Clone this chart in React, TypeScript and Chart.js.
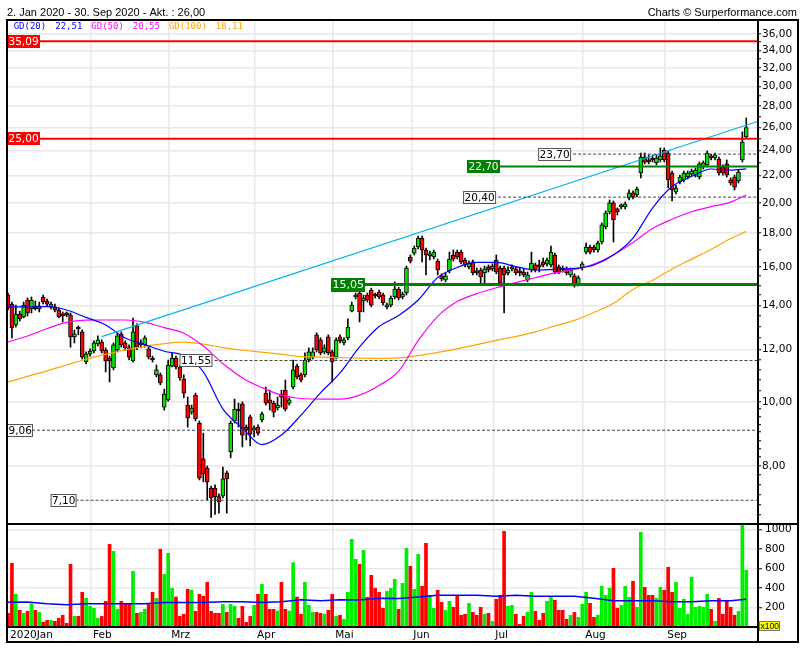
import { useEffect, useRef } from 'react';
import { Chart, registerables } from 'chart.js';
Chart.register(...registerables);

// ---------------- DATA ----------------
const titleText = '2. Jan 2020 - 30. Sep 2020 - Akt. : 26,00';
const creditText = 'Charts \u00A9 Surperformance.com';

const opens = [
  14.51, 14.06, 13.07, 13.58, 13.44, 14.26, 13.82, 13.96, 13.82, 14.41,
  14.21, 13.92, 13.92, 13.77, 13.58, 13.63, 13.54, 12.54, 12.94, 12.76,
  11.49, 11.82, 11.94, 12.24, 12.32, 11.98, 11.65, 11.26, 11.98, 12.67,
  12.28, 12.07, 11.53, 13.03, 12.20, 12.20, 12.03, 11.65, 10.99, 10.99,
  9.82, 10.07, 11.33, 11.65, 11.30, 10.83, 9.89, 9.65, 10.24, 9.29,
  8.20, 7.94, 7.41, 7.41, 7.19, 7.21, 7.81, 8.40, 9.36, 9.75,
  9.93, 9.16, 9.49, 9.07, 9.16, 9.39, 10.31, 10.07, 9.96, 9.79,
  10.28, 10.42, 9.96, 10.53, 11.33, 10.99, 10.99, 11.57, 11.69, 12.63,
  12.41, 11.90, 12.54, 11.90, 11.69, 12.54, 12.28, 12.50, 13.72, 14.41,
  14.61, 14.21, 14.51, 14.76, 14.51, 14.66, 14.51, 13.92, 14.01, 14.41,
  14.81, 14.41, 14.61, 16.56, 16.79, 17.15, 17.69, 16.97, 16.62, 16.56,
  16.33, 15.51, 15.29, 15.78, 16.68, 16.85, 16.85, 16.39, 16.00, 16.28,
  15.72, 15.83, 15.67, 16.00, 15.89, 16.39, 15.94, 15.94, 15.67, 15.89,
  15.89, 15.78, 15.72, 15.29, 15.83, 16.11, 16.05, 16.28, 16.17, 16.11,
  16.68, 16.00, 15.94, 15.89, 15.56, 15.51, 15.08, 15.94, 16.85, 17.15,
  17.15, 16.97, 17.45, 18.39, 19.38, 20.00, 19.58, 19.72, 19.72, 20.34,
  20.70, 20.56, 22.19, 23.46, 23.22, 23.38, 22.98, 23.22, 24.04, 23.79,
  22.19, 20.78, 21.51, 21.66, 21.88, 22.11, 22.03, 21.88, 22.66, 22.82,
  23.55, 23.38, 23.30, 22.66, 22.90, 21.66, 21.88, 21.58, 23.22, 25.16,
];
const highs = [
  14.61, 14.16, 14.01, 13.72, 14.16, 14.36, 14.41, 14.21, 14.16, 14.51,
  14.31, 14.16, 14.06, 13.87, 13.68, 13.68, 13.63, 12.85, 13.03, 12.85,
  11.90, 12.03, 12.37, 12.59, 12.41, 12.07, 11.73, 12.28, 12.72, 12.76,
  12.37, 12.20, 13.39, 13.12, 12.41, 12.59, 12.10, 11.73, 11.37, 11.06,
  10.46, 11.57, 11.86, 11.73, 11.37, 10.99, 10.17, 9.89, 10.31, 9.36,
  8.97, 8.00, 7.46, 7.49, 7.26, 7.97, 7.86, 9.36, 10.10, 9.96,
  10.00, 9.23, 9.55, 9.20, 9.23, 9.65, 10.53, 10.42, 10.03, 10.17,
  10.42, 10.79, 10.14, 11.57, 11.41, 11.06, 11.86, 12.07, 12.07, 12.72,
  12.50, 12.20, 12.63, 11.98, 12.50, 12.63, 12.50, 13.35, 14.16, 14.61,
  14.71, 14.51, 14.61, 14.86, 14.61, 14.76, 14.61, 14.11, 14.46, 15.19,
  14.91, 14.66, 16.05, 16.68, 17.21, 17.81, 17.81, 17.09, 16.91, 16.97,
  16.45, 15.62, 15.67, 16.85, 16.97, 16.97, 16.97, 16.50, 16.33, 16.39,
  15.94, 15.94, 16.05, 16.11, 16.17, 16.68, 16.05, 16.05, 16.00, 16.11,
  16.00, 15.94, 15.89, 15.72, 16.85, 16.22, 16.39, 16.50, 16.50, 17.21,
  16.79, 16.11, 16.05, 16.00, 15.94, 15.62, 15.51, 16.28, 17.39, 17.27,
  17.27, 17.51, 18.65, 19.45, 20.20, 20.13, 19.65, 19.93, 20.06, 20.92,
  20.85, 21.13, 23.79, 23.79, 23.63, 23.63, 23.63, 24.21, 24.21, 23.96,
  22.34, 21.28, 22.03, 22.34, 22.34, 22.50, 22.58, 23.06, 23.14, 23.96,
  23.71, 23.79, 23.46, 22.82, 23.22, 21.81, 22.03, 22.42, 25.60, 26.87,
];
const lows = [
  13.77, 12.50, 12.98, 13.25, 13.40, 13.49, 13.63, 13.77, 13.68, 14.06,
  13.96, 13.82, 13.68, 13.40, 13.21, 13.45, 12.10, 12.28, 12.63, 11.61,
  11.41, 11.73, 11.86, 12.15, 11.86, 11.10, 10.72, 11.18, 11.90, 12.10,
  11.98, 11.57, 11.49, 12.00, 12.07, 12.10, 11.61, 11.49, 10.91, 10.61,
  9.72, 10.03, 11.30, 11.22, 10.79, 10.14, 9.16, 9.58, 9.36, 7.62,
  7.57, 7.11, 6.69, 6.76, 6.79, 7.16, 6.79, 8.23, 9.29, 9.16,
  8.55, 8.76, 8.58, 8.85, 8.91, 9.33, 9.89, 9.72, 9.49, 9.72,
  9.82, 9.69, 9.89, 10.46, 10.83, 10.72, 10.91, 11.49, 11.61, 11.90,
  11.78, 11.82, 11.78, 10.72, 11.61, 12.28, 12.20, 12.41, 13.68, 14.31,
  13.21, 13.68, 14.16, 13.92, 14.36, 14.31, 14.01, 13.82, 13.92, 14.31,
  14.26, 14.31, 14.51, 16.22, 16.68, 17.03, 16.28, 15.56, 16.39, 16.45,
  15.56, 15.24, 15.19, 15.67, 16.33, 16.45, 16.17, 16.00, 15.89, 15.56,
  15.56, 15.13, 15.13, 15.72, 15.78, 15.62, 15.03, 13.63, 15.56, 15.78,
  15.56, 15.51, 15.45, 15.19, 15.72, 15.72, 15.72, 16.00, 16.05, 16.00,
  15.62, 15.62, 15.72, 15.56, 15.45, 14.91, 14.97, 15.83, 16.74, 16.74,
  16.85, 16.85, 17.33, 18.26, 19.24, 17.45, 19.17, 19.58, 19.58, 20.20,
  20.27, 20.41, 21.81, 22.90, 22.90, 23.06, 22.82, 23.06, 23.06, 21.06,
  20.13, 20.63, 21.36, 21.51, 21.73, 21.96, 21.88, 21.73, 22.50, 22.66,
  23.22, 23.22, 22.03, 22.03, 21.88, 21.28, 20.92, 21.43, 23.06, 25.07,
];
const closes = [
  13.87, 12.94, 13.58, 13.35, 14.01, 13.63, 14.26, 13.82, 13.96, 14.16,
  14.06, 14.06, 13.77, 13.44, 13.49, 13.54, 12.54, 12.67, 12.89, 11.69,
  11.82, 11.94, 12.28, 12.41, 11.94, 11.53, 11.53, 12.20, 12.59, 12.20,
  12.07, 11.69, 12.76, 12.10, 12.24, 12.50, 11.69, 11.57, 11.18, 10.68,
  10.28, 11.37, 11.65, 11.30, 10.87, 10.31, 9.46, 9.79, 9.43, 7.67,
  7.78, 7.57, 7.16, 7.19, 7.06, 7.65, 7.65, 9.29, 9.75, 9.69,
  8.91, 9.07, 8.94, 9.10, 8.97, 9.59, 9.96, 9.96, 9.65, 9.89,
  10.17, 9.75, 10.07, 11.18, 10.91, 10.79, 11.57, 11.90, 11.90, 11.98,
  11.86, 12.07, 11.86, 11.49, 12.41, 12.37, 12.41, 12.98, 14.01, 14.46,
  13.68, 14.36, 14.26, 14.01, 14.46, 14.41, 14.11, 14.01, 14.36, 14.81,
  14.36, 14.56, 15.94, 16.33, 17.09, 17.69, 16.97, 16.68, 16.74, 16.85,
  15.83, 15.35, 15.51, 16.45, 16.45, 16.56, 16.28, 16.11, 16.22, 15.67,
  15.67, 15.45, 15.89, 15.83, 16.05, 15.72, 15.13, 15.56, 15.83, 16.00,
  15.67, 15.67, 15.56, 15.56, 16.22, 15.83, 16.00, 16.11, 16.39, 16.85,
  15.72, 15.72, 15.83, 15.67, 15.83, 15.08, 15.40, 16.17, 17.15, 16.85,
  16.97, 17.39, 18.52, 19.31, 20.00, 18.84, 19.38, 19.79, 19.93, 20.70,
  20.41, 20.99, 23.46, 23.05, 23.06, 23.22, 23.38, 23.55, 23.22, 21.66,
  20.92, 21.06, 21.88, 22.19, 22.19, 22.34, 22.42, 22.90, 22.98, 23.79,
  23.38, 23.63, 22.19, 22.19, 22.03, 21.43, 21.13, 22.26, 24.72, 26.00,
];
// volume in units of 100
const volumes = [
  140, 653, 335, 171, 140, 161, 239, 171, 150, 51,
  68, 68, 58, 89, 120, 38, 643, 109, 109, 356,
  294, 212, 191, 89, 109, 263, 848, 776, 181, 263,
  232, 239, 571, 140, 150, 181, 232, 356, 294, 797,
  540, 756, 397, 308, 109, 130, 386, 376, 161, 335,
  315, 458, 161, 140, 140, 232, 150, 232, 212, 89,
  212, 48, 109, 222, 335, 438, 335, 181, 181, 164,
  458, 181, 164, 660, 308, 130, 458, 222, 150, 150,
  140, 130, 171, 335, 109, 120, 79, 356, 899, 694,
  643, 786, 304, 530, 397, 356, 191, 366, 397, 489,
  181, 448, 807, 622, 386, 745, 417, 858, 325, 191,
  376, 253, 171, 263, 202, 315, 120, 130, 243, 150,
  120, 202, 130, 140, 58, 284, 325, 981, 212, 222,
  130, 27, 109, 150, 356, 161, 68, 140, 263, 304,
  274, 171, 171, 79, 120, 150, 99, 232, 356, 243,
  99, 120, 417, 325, 397, 602, 191, 222, 417, 304,
  468, 202, 971, 407, 325, 325, 294, 407, 376, 612,
  356, 458, 191, 284, 130, 509, 202, 212, 202, 335,
  181, 58, 294, 130, 263, 202, 120, 161, 1053, 581,
];

// moving averages, read at these candle indices
const maIdx = [
  0, 5, 10, 15, 20, 25, 30, 35, 40, 45, 50, 55, 60, 65, 70, 75, 80, 85, 90, 95,
  100, 105, 110, 115, 120, 125, 130, 135, 140, 145, 150, 155, 160, 165, 170, 175, 180, 185, 189,
];
const ma20 = [
  13.92, 13.92, 13.93, 13.77, 13.42, 13.07, 12.49, 12.21, 11.93, 11.75, 11.10, 9.76, 9.13, 8.62, 8.91, 9.55, 10.32, 11.06, 12.11, 13.0,
  13.51, 14.26, 15.42, 15.97, 16.25, 16.25, 16.02, 15.83, 15.86, 15.92, 16.11, 16.68, 17.69, 19.64, 21.17, 21.92, 22.50, 22.42, 22.51,
];
const ma50 = [
  12.32, 12.58, 12.91, 13.19, 13.29, 13.30, 13.30, 13.19, 12.95, 12.70, 12.15, 11.43, 10.87, 10.51, 10.24, 10.12, 10.10, 10.10, 10.24, 10.59,
  11.13, 12.38, 13.47, 14.18, 14.58, 14.88, 15.15, 15.41, 15.67, 15.86, 16.16, 16.69, 17.42, 18.29, 18.89, 19.39, 19.74, 20.05, 20.55,
];
const ma100 = [
  10.72, 10.93, 11.14, 11.37, 11.60, 11.80, 11.98, 12.13, 12.25, 12.31, 12.23, 12.08, 11.97, 11.89, 11.80, 11.71, 11.69, 11.67, 11.65, 11.64,
  11.66, 11.75, 11.88, 12.03, 12.21, 12.39, 12.56, 12.76, 13.03, 13.28, 13.65, 14.10, 14.79, 15.27, 15.89, 16.44, 17.00, 17.66, 18.11,
];
const volAvg = [
  255, 256, 239, 229, 239, 239, 239, 239, 250, 250, 250, 260, 260, 250, 260, 280, 270, 280, 277, 294,
  291, 308, 325, 325, 325, 315, 325, 315, 315, 315, 294, 270, 270, 270, 260, 260, 270, 270, 284,
];
const maNames = ['GD(20)', 'GD(50)', 'GD(100)'];

// trend line (index, price)
const trendIdx = [24, 191.8];
const trendVal = [12.55, 26.55];

// horizontal levels
const levelValues = [35.09, 25.0, 23.7, 22.7, 20.4, 15.05, 11.55, 9.06, 7.1];
const levelFrom = [-0.26, -0.26, 135.7, 117.5, 116.5, 82.7, 43.9, -0.26, 10.9];
const levelKind = ['red', 'red', 'dash', 'green', 'dash', 'greenBold', 'dash', 'dash', 'dash'];

// axes
const monthLabels = ['2020Jan', 'Feb', 'Mrz', 'Apr', 'Mai', 'Jun', 'Jul', 'Aug', 'Sep'];
const monthStart = [0, 22, 42, 64, 84, 104, 125, 148, 169];
const priceMajor = [8, 10, 12, 14, 16, 18, 20, 22, 24, 26, 28, 30, 32, 34, 36];
const priceMinor = [
  6.75, 7, 7.25, 7.5, 7.75, 8.25, 8.5, 8.75, 9, 9.25, 9.5, 9.75, 10.4, 10.8, 11.2, 11.6,
  12.5, 13, 13.5, 14.5, 15, 15.5, 17, 19, 21, 23, 25, 27, 29, 31, 33, 35,
];
const volTicks = [200, 400, 600, 800, 1000];

// ---------------- STYLE ----------------
const X_MIN = -0.26;
const X_MAX = 192;
const P_MIN = 6.56;
const P_MAX = 37.8;
const V_MAX = 1056;
const GRID = '#e8e8e8';
const UP = '#00e600';
const DOWN = '#ff0000';
const MA_COLORS = ['#0000ff', '#ff00ff', '#ffa500'];
const FONT = '"DejaVu Sans", Verdana, sans-serif';

const fmt2 = (v: number) => v.toFixed(2).replace('.', ',');
const isMajor = (v: number) => priceMajor.some((m) => Math.abs(m - v) < 1e-6);
const upDay = closes.map((c, i) => c >= opens[i]);

const xAxis = (withLabels: boolean) => ({
  type: 'linear',
  min: X_MIN,
  max: X_MAX,
  offset: false,
  afterBuildTicks: (s: any) => {
    s.ticks = monthStart.map((m, k) => ({ value: k === 0 ? m : m - 0.75 }));
  },
  afterFit: (s: any) => {
    s.height = withLabels ? 15 : 0;
    s.paddingLeft = 0;
    s.paddingRight = 0;
  },
  grid: {
    offset: false,
    color: (c: any) => (c.index === 0 ? 'rgba(0,0,0,0)' : GRID),
    lineWidth: 1.5,
    drawTicks: false,
  },
  border: { display: false },
  ticks: withLabels
    ? {
        display: true,
        autoSkip: false,
        maxRotation: 0,
        align: 'start',
        labelOffset: 2,
        padding: 2,
        color: '#000',
        font: { family: FONT, size: 10.5 },
        callback: (_v: any, i: number) => monthLabels[i],
      }
    : { display: false },
});

const pricePlugin = {
  id: 'priceDecor',
  afterDraw(chart: any) {
    const { ctx, chartArea } = chart;
    const xs = chart.scales.x;
    const ys = chart.scales.y;
    ctx.save();
    // header
    ctx.fillStyle = '#000';
    ctx.font = '11px "Liberation Sans", Arial, sans-serif';
    ctx.textBaseline = 'alphabetic';
    ctx.textAlign = 'left';
    ctx.fillText(titleText, 7, 16);
    ctx.textAlign = 'right';
    ctx.fillText(creditText, chart.width - 8, 16);
    // legend
    ctx.textAlign = 'left';
    ctx.textBaseline = 'middle';
    ctx.font = '9px "DejaVu Sans Mono", monospace';
    let lx = chartArea.left + 6.7;
    const lastVals = [ma20[ma20.length - 1], ma50[ma50.length - 1], ma100[ma100.length - 1]];
    maNames.forEach((n, k) => {
      ctx.fillStyle = MA_COLORS[k];
      ctx.fillText(n, lx, 27);
      lx += ctx.measureText(n).width + 9;
      const t = fmt2(lastVals[k]);
      ctx.fillText(t, lx, 27);
      lx += ctx.measureText(t).width + 9;
    });
    // level label boxes
    levelValues.forEach((v, k) => {
      const kind = levelKind[k];
      ctx.font = kind === 'greenBold' ? `11px ${FONT}` : `10.5px ${FONT}`;
      const py = ys.getPixelForValue(v);
      const px = Math.max(xs.getPixelForValue(levelFrom[k]), chartArea.left);
      const t = fmt2(v);
      const w = Math.round(ctx.measureText(t).width + 3);
      const h = kind === 'greenBold' ? 14 : 13;
      const top = Math.round(py - h / 2);
      if (kind === 'red') ctx.fillStyle = '#ff0000';
      else if (kind === 'green' || kind === 'greenBold') ctx.fillStyle = '#008000';
      else ctx.fillStyle = '#ffffff';
      ctx.fillRect(px, top, w, h);
      if (kind === 'dash') {
        ctx.strokeStyle = '#555';
        ctx.lineWidth = 1;
        ctx.strokeRect(px + 0.5, top + 0.5, w - 1, h - 1);
      }
      ctx.fillStyle = kind === 'dash' ? '#000' : '#fff';
      ctx.fillText(t, px + 1.5, top + h / 2 + 0.5);
    });
    // frame
    ctx.strokeStyle = '#000';
    ctx.lineWidth = 2;
    ctx.beginPath();
    ctx.moveTo(chartArea.left - 1, chartArea.top);
    ctx.lineTo(chart.width - 6, chartArea.top);
    ctx.moveTo(chartArea.left, chartArea.top - 1);
    ctx.lineTo(chartArea.left, chart.height);
    ctx.moveTo(chart.width - 7, chartArea.top - 1);
    ctx.lineTo(chart.width - 7, chart.height);
    ctx.moveTo(chartArea.right, chartArea.top - 1);
    ctx.lineTo(chartArea.right, chart.height);
    ctx.stroke();
    ctx.restore();
  },
};

const volPlugin = {
  id: 'volDecor',
  afterDraw(chart: any) {
    const { ctx, chartArea } = chart;
    ctx.save();
    const outerR = chart.width - 7;
    const bottomB = chartArea.bottom + 15;
    ctx.strokeStyle = '#000';
    ctx.lineWidth = 2;
    ctx.beginPath();
    ctx.moveTo(chartArea.left - 1, chartArea.top);
    ctx.lineTo(outerR + 1, chartArea.top);
    ctx.moveTo(chartArea.left - 1, chartArea.bottom);
    ctx.lineTo(chartArea.right, chartArea.bottom);
    ctx.moveTo(chartArea.left - 1, bottomB);
    ctx.lineTo(outerR + 1, bottomB);
    ctx.moveTo(chartArea.left, 0);
    ctx.lineTo(chartArea.left, bottomB + 1);
    ctx.moveTo(outerR, 0);
    ctx.lineTo(outerR, bottomB + 1);
    ctx.moveTo(chartArea.right, 0);
    ctx.lineTo(chartArea.right, bottomB + 1);
    ctx.stroke();
    // x100 box
    ctx.font = '8.5px "Liberation Sans", Arial, sans-serif';
    const t = 'x100';
    const w = Math.round(ctx.measureText(t).width + 3);
    const bx = chartArea.right + 1;
    const by = chartArea.bottom - 6;
    ctx.fillStyle = '#ffff00';
    ctx.fillRect(bx, by, w, 10);
    ctx.strokeStyle = '#777';
    ctx.lineWidth = 1;
    ctx.strokeRect(bx + 0.5, by + 0.5, w - 1, 9);
    ctx.fillStyle = '#000';
    ctx.textBaseline = 'middle';
    ctx.textAlign = 'left';
    ctx.fillText(t, bx + 1.5, by + 5.5);
    ctx.restore();
  },
};

function priceConfig(): any {
  const maSets = [ma20, ma50, ma100].map((arr, k) => ({
    type: 'line',
    data: maIdx.map((x, j) => ({ x, y: arr[j] })),
    borderColor: MA_COLORS[k],
    borderWidth: 1.2,
    pointRadius: 0,
    cubicInterpolationMode: 'monotone',
    order: 3,
  }));
  const levelSets = levelValues.map((v, k) => {
    const kind = levelKind[k];
    return {
      type: 'line',
      data: [
        { x: levelFrom[k], y: v },
        { x: X_MAX, y: v },
      ],
      borderColor: kind === 'red' ? '#ff0000' : kind === 'dash' ? '#444' : '#008000',
      borderWidth: kind === 'greenBold' ? 3 : kind === 'dash' ? 1 : 2,
      borderDash: kind === 'dash' ? [3, 2] : [],
      pointRadius: 0,
      order: 1,
    };
  });
  return {
    type: 'bar',
    data: {
      datasets: [
        {
          type: 'bar',
          data: highs.map((h, i) => ({ x: i, y: [lows[i], h] })),
          backgroundColor: '#000',
          barThickness: 1,
          grouped: false,
          borderWidth: 0,
          order: 6,
        },
        {
          type: 'bar',
          data: opens.map((o, i) => ({ x: i, y: [Math.min(o, closes[i]), Math.max(o, closes[i])] })),
          backgroundColor: upDay.map((u) => (u ? UP : DOWN)),
          borderColor: '#000',
          borderWidth: 1,
          borderSkipped: false,
          barThickness: 4,
          minBarLength: 2,
          grouped: false,
          order: 5,
        },
        ...maSets,
        {
          type: 'line',
          data: trendIdx.map((x, j) => ({ x, y: trendVal[j] })),
          borderColor: '#00b4f0',
          borderWidth: 1.2,
          pointRadius: 0,
          order: 2,
        },
        ...levelSets,
      ],
    },
    options: {
      responsive: false,
      maintainAspectRatio: false,
      animation: false,
      devicePixelRatio: 1,
      events: [],
      layout: { autoPadding: false, padding: { left: 7, right: 7, top: 20, bottom: 0 } },
      plugins: { legend: { display: false }, tooltip: { enabled: false }, title: { display: false } },
      scales: {
        x: xAxis(false),
        y: {
          type: 'logarithmic',
          position: 'right',
          min: P_MIN,
          max: P_MAX,
          afterBuildTicks: (s: any) => {
            s.ticks = [...priceMajor, ...priceMinor].sort((a, b) => a - b).map((v) => ({ value: v }));
          },
          afterFit: (s: any) => {
            s.width = 40;
            s.paddingTop = 0;
            s.paddingBottom = 0;
          },
          grid: {
            color: (c: any) => (c.tick && isMajor(c.tick.value) ? GRID : 'rgba(0,0,0,0)'),
            lineWidth: 1.5,
            tickColor: '#000',
            tickWidth: 1,
            tickLength: 3,
          },
          border: { display: false },
          ticks: {
            autoSkip: false,
            padding: 1,
            color: '#000',
            font: { family: FONT, size: 10.5 },
            callback: (v: any) => (isMajor(Number(v)) ? fmt2(Number(v)) : ''),
          },
        },
      },
    },
    plugins: [pricePlugin],
  };
}

function volConfig(): any {
  return {
    type: 'bar',
    data: {
      datasets: [
        {
          type: 'line',
          data: maIdx.map((x, j) => ({ x, y: volAvg[j] })),
          borderColor: '#0000ff',
          borderWidth: 1.5,
          pointRadius: 0,
          order: 1,
        },
        {
          type: 'bar',
          data: volumes.map((v, i) => ({ x: i, y: v })),
          backgroundColor: upDay.map((u) => (u ? '#00ee00' : '#ff0000')),
          barThickness: 3,
          borderWidth: 0,
          grouped: false,
          order: 2,
        },
      ],
    },
    options: {
      responsive: false,
      maintainAspectRatio: false,
      animation: false,
      devicePixelRatio: 1,
      events: [],
      layout: { autoPadding: false, padding: { left: 7, right: 7, top: 1, bottom: 8 } },
      plugins: { legend: { display: false }, tooltip: { enabled: false } },
      scales: {
        x: xAxis(true),
        y: {
          type: 'linear',
          position: 'right',
          min: 0,
          max: V_MAX,
          afterBuildTicks: (s: any) => {
            s.ticks = volTicks.map((v) => ({ value: v }));
          },
          afterFit: (s: any) => {
            s.width = 40;
            s.paddingTop = 0;
            s.paddingBottom = 0;
          },
          grid: { color: GRID, lineWidth: 1.5, tickColor: '#000', tickWidth: 1, tickLength: 4 },
          border: { display: false },
          ticks: {
            autoSkip: false,
            padding: 3,
            color: '#000',
            font: { family: FONT, size: 10.5 },
            callback: (v: any) => String(v),
          },
        },
      },
    },
    plugins: [volPlugin],
  };
}

export default function App() {
  const priceRef = useRef<HTMLCanvasElement>(null);
  const volRef = useRef<HTMLCanvasElement>(null);
  useEffect(() => {
    const c1 = new Chart(priceRef.current as HTMLCanvasElement, priceConfig());
    const c2 = new Chart(volRef.current as HTMLCanvasElement, volConfig());
    return () => {
      c1.destroy();
      c2.destroy();
    };
  }, []);
  return (
    <div style={{ position: 'fixed', left: 0, top: 0, width: 805, height: 650, background: '#fff' }}>
      <canvas
        ref={priceRef}
        width={805}
        height={523}
        style={{ position: 'absolute', left: 0, top: 0, width: 805, height: 523 }}
      />
      <canvas
        ref={volRef}
        width={805}
        height={127}
        style={{ position: 'absolute', left: 0, top: 523, width: 805, height: 127 }}
      />
    </div>
  );
}
